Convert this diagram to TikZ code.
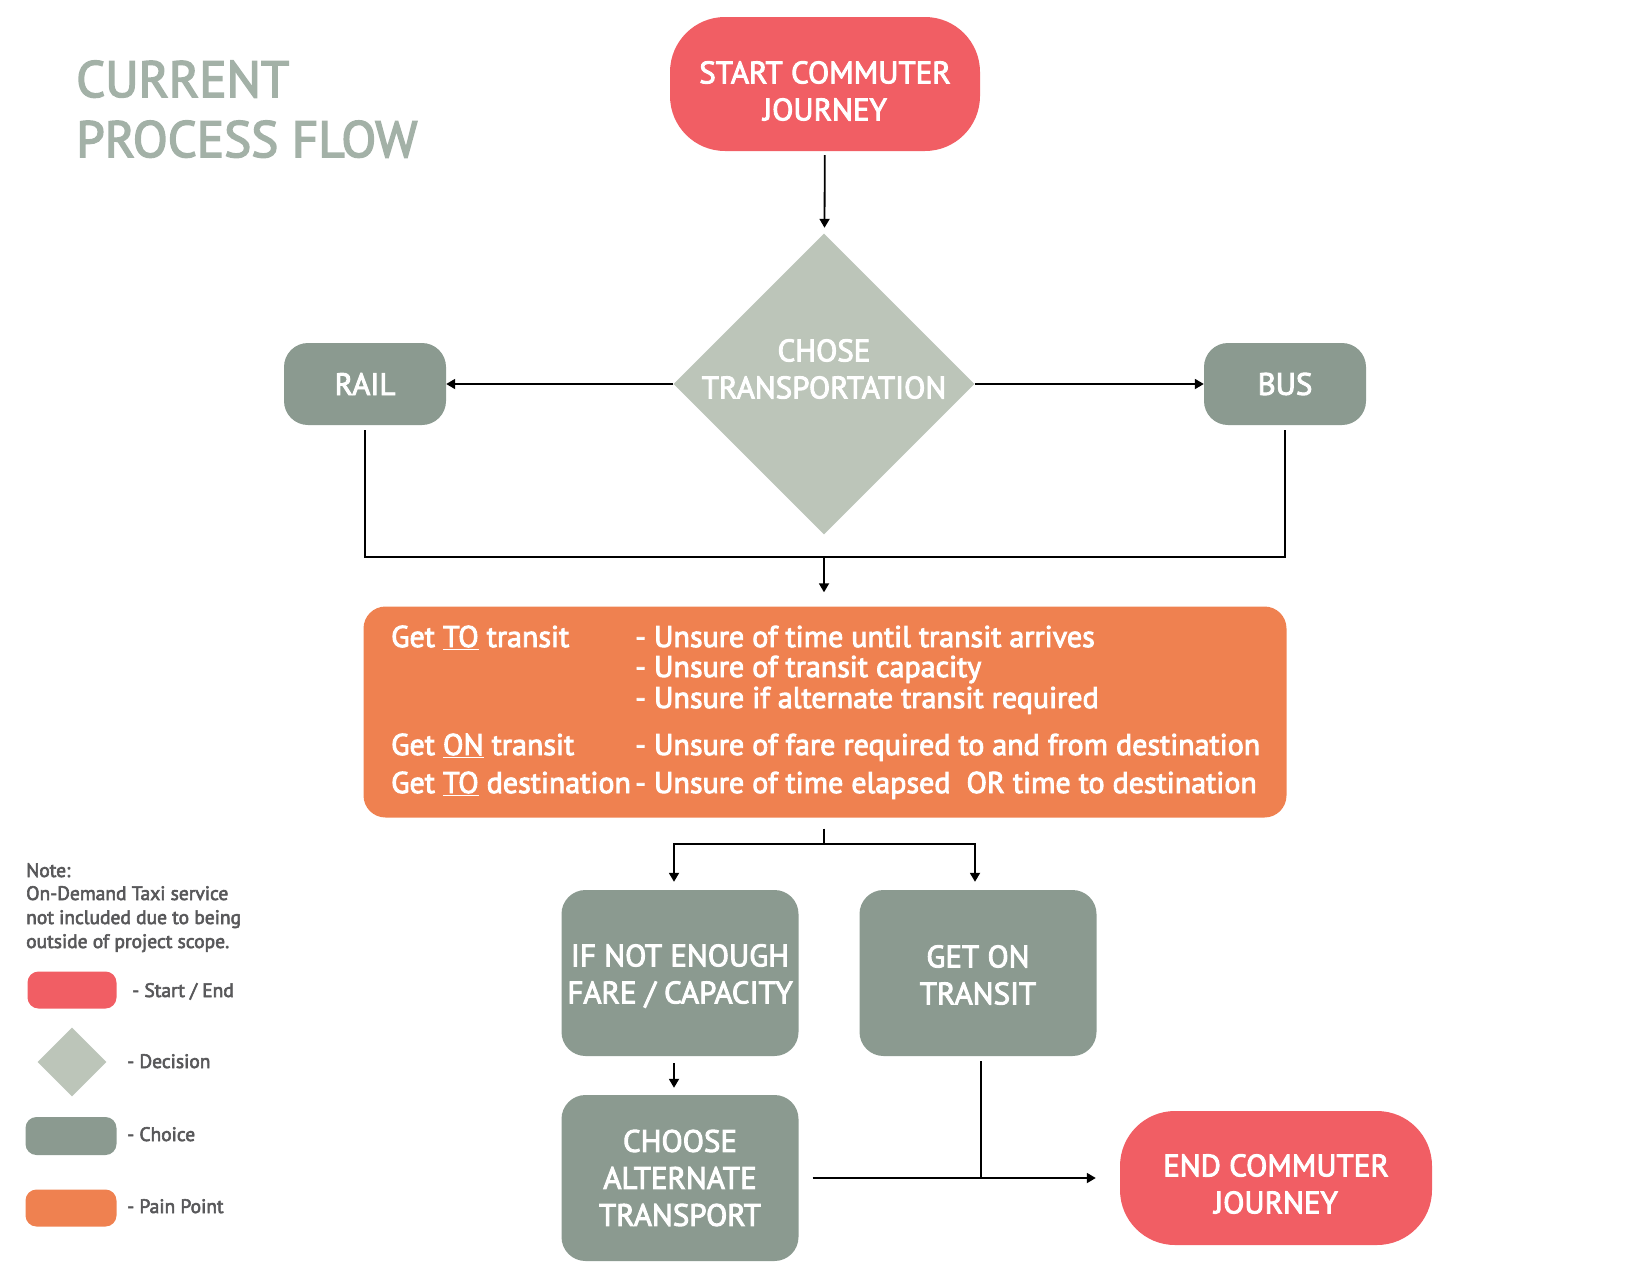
\documentclass[tikz,border=0pt]{standalone}
\usepackage{fontspec}
\setmainfont{PT Sans}
\newfontfamily\medfont{PT Sans}[UprightFeatures={FakeBold=3}]
\usetikzlibrary{arrows.meta,shapes.geometric}
\definecolor{cred}{HTML}{F15E64}
\definecolor{cdia}{HTML}{BCC5B9}
\definecolor{cgreen}{HTML}{8B9A90}
\definecolor{cpain}{HTML}{EF8150}
\definecolor{ctitle}{HTML}{A3B1A7}
\definecolor{cnote}{HTML}{58585A}
\begin{document}
\begin{tikzpicture}[x=1pt,y=-1pt,
  term/.style={fill=cred, rounded corners=55pt, minimum width=310pt, minimum height=134pt, inner sep=0pt},
  choice/.style={fill=cgreen, rounded corners=24pt, inner sep=0pt, text=white, align=center, font=\medfont\fontsize{31}{37}\selectfont},
  whitetext/.style={text=white, align=center, inner sep=0pt, font=\medfont\fontsize{31}{37}\selectfont},
  paintext/.style={text=white, anchor=base west, inner sep=0pt, font=\medfont\fontsize{30}{31}\selectfont},
  notetext/.style={text=cnote, anchor=base west, inner sep=0pt, font=\medfont\fontsize{19.5}{23}\selectfont},
  titletext/.style={text=ctitle, anchor=base west, inner sep=0pt, font=\medfont\fontsize{51}{60}\selectfont},
  flow/.style={line width=1.8pt, -{Triangle[width=10pt,length=9pt]}},
  plain/.style={line width=1.8pt}
]
\useasboundingbox (0,0) rectangle (1651,1275);

% title
\node[titletext] (t1) at (76,97) {CURRENT};
\node[titletext] (t2) at (76,157) {PROCESS FLOW};

% main nodes
\node[term] (start) at (825,84) {};
\node[whitetext] (starttext) at (825,91) {START COMMUTER\\JOURNEY};
\node[diamond, fill=cdia, minimum width=301pt, minimum height=301pt, inner sep=0pt] (dec) at (824,384) {};
\node[whitetext] (dectext) at (824,369) {CHOSE\\TRANSPORTATION};
\node[choice, minimum width=162pt, minimum height=82pt] (rail) at (365,384) {RAIL};
\node[choice, minimum width=162pt, minimum height=82pt] (bus) at (1285,384) {BUS};
\node[fill=cpain, rounded corners=22pt, minimum width=923pt, minimum height=211pt, inner sep=0pt] (pain) at (825,712) {};
\node[choice, minimum width=237pt, minimum height=166pt] (ifnot) at (680,973) {};
\node[whitetext] (ifnottext) at (680,976) {IF NOT ENOUGH\\FARE / CAPACITY};
\node[choice, minimum width=237pt, minimum height=166pt] (geton) at (978,973) {};
\node[whitetext] (getontext) at (978,975) {GET ON\\TRANSIT};
\node[choice, minimum width=237pt, minimum height=166pt] (choose) at (680,1178) {CHOOSE\\ALTERNATE\\TRANSPORT};
\node[term, minimum width=312pt] (end) at (1276,1178) {};
\node[whitetext] (endtext) at (1276,1184) {END COMMUTER\\JOURNEY};

% pain point text
\node[paintext] (p1) at (391,647) {Get \underline{TO} transit};
\node[paintext] (p4) at (391,755) {Get \underline{ON} transit};
\node[paintext] (p5) at (391,793) {Get \underline{TO} destination};
\node[paintext] (q1) at (635,647) {- Unsure of time until transit arrives};
\node[paintext] (q2) at (635,677) {- Unsure of transit capacity};
\node[paintext] (q3) at (635,708) {- Unsure if alternate transit required};
\node[paintext] (q4) at (635,755) {- Unsure of fare required to and from destination};
\node[paintext] (q5) at (635,793) {- Unsure of time elapsed\ \ OR time to destination};

% connectors
\draw[flow, shorten <=4pt, shorten >=6pt] (start) -- (dec);
\draw[flow] (dec.west) -- (rail.east);
\draw[flow] (dec.east) -- (bus.west);
\coordinate (j1) at (824,557);
\draw[plain] ([yshift=-5pt]rail.south) |- (j1) -| ([yshift=-5pt]bus.south);
\draw[flow, shorten >=14pt] (j1) -- (pain.north -| j1);
\coordinate (j2) at (824,844);
\draw[plain] ([yshift=-11pt]pain.south -| j2) -- (j2);
\draw[flow] (j2) -| ([xshift=-6pt,yshift=8pt]ifnot.north);
\draw[flow] (j2) -| ([xshift=-3pt,yshift=8pt]geton.north);
\draw[flow, shorten <=7pt, shorten >=7pt] ([xshift=-6pt]ifnot.south) -- ([xshift=-6pt]choose.north);
\coordinate (j3) at (981,1177);
\draw[plain] ([xshift=3pt,yshift=-5pt]geton.south) -- (j3);
\draw[flow] ([xshift=14pt]choose.east) -- ([xshift=-24pt]end.west);

% legend
\node[notetext] (n1) at (26,877) {Note:};
\node[notetext] (n2) at (26,900) {On-Demand Taxi service};
\node[notetext] (n3) at (26,924) {not included due to being};
\node[notetext] (n4) at (26,948) {outside of project scope.};
\node[fill=cred, rounded corners=11pt, minimum width=89pt, minimum height=37pt, inner sep=0pt] (lg1) at (72,990) {};
\node[notetext] (l1) at (132,997) {- Start / End};
\node[diamond, fill=cdia, minimum width=69pt, minimum height=69pt, inner sep=0pt] (lg2) at (72,1062) {};
\node[notetext] (l2) at (127,1068) {- Decision};
\node[fill=cgreen, rounded corners=11pt, minimum width=91pt, minimum height=38pt, inner sep=0pt] (lg3) at (71,1136) {};
\node[notetext] (l3) at (127,1141) {- Choice};
\node[fill=cpain, rounded corners=11pt, minimum width=91pt, minimum height=37pt, inner sep=0pt] (lg4) at (71,1208) {};
\node[notetext] (l4) at (127,1213) {- Pain Point};
\end{tikzpicture}
\end{document}
